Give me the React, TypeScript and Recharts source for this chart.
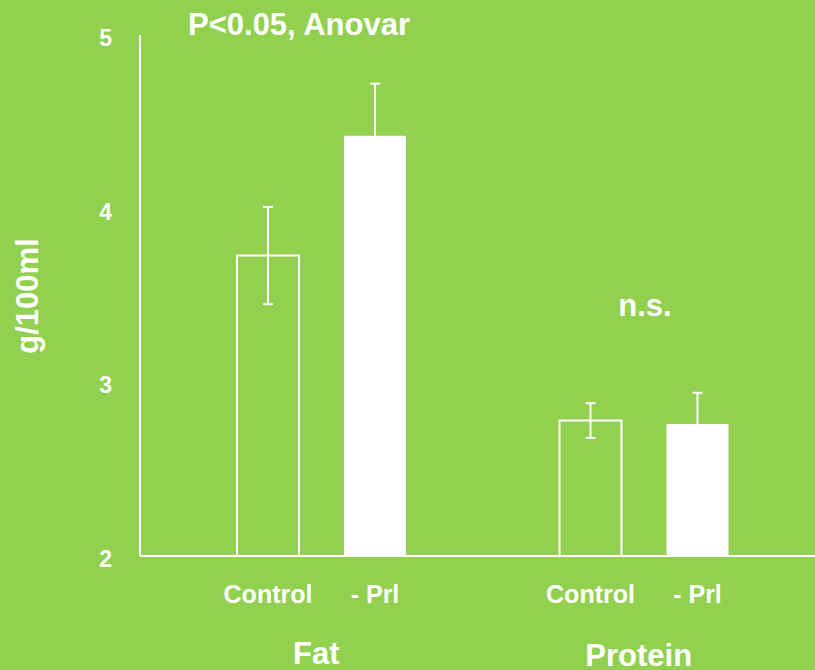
import React from "react";
import { BarChart, Bar, XAxis, YAxis, ErrorBar } from "recharts";

const categories = ["Fat", "Protein"];
const controlValues = [3.73, 2.78];
const controlErrors = [0.28, 0.1];
const prlValues = [4.42, 2.76];
const prlErrors = [0.3, 0.18];
const yTicks = [2, 3, 4, 5];

const data = categories.map((name, i) => ({
  name,
  control: controlValues[i],
  controlErr: controlErrors[i],
  prl: prlValues[i],
  prlErr: prlErrors[i],
}));

const GREEN = "#92D050";
const FONT = "'Liberation Sans', Arial, sans-serif";

const YTick = (props: any) => {
  const { x, y, payload } = props;
  return (
    <text x={x} y={y} dy={11} textAnchor="end" fill="#fff" fontSize={23} fontWeight="bold" fontFamily={FONT}>
      {payload.value}
    </text>
  );
};

const XTick = (props: any) => {
  const { x, y, payload } = props;
  return (
    <text x={x - 5} y={y} dy={payload.value === "Fat" ? 108 : 110} textAnchor="middle" fill="#fff" fontSize={31} fontWeight="bold" fontFamily={FONT}>
      {payload.value}
    </text>
  );
};

// series name under each bar
const subLabel = (text: string) => (props: any) => {
  const vb = props.viewBox || {};
  const x = props.x ?? vb.x;
  const y = props.y ?? vb.y;
  const w = props.width ?? vb.width;
  const h = props.height ?? vb.height;
  return (
    <text x={x + w / 2} y={y + h + 47} textAnchor="middle" fill="#fff" fontSize={25} fontWeight="bold" fontFamily={FONT}>
      {text}
    </text>
  );
};

const App = () => {
  return (
    <div style={{ position: "absolute", left: 0, top: 0, width: 815, height: 670, background: GREEN }}>
      <BarChart
        width={815}
        height={670}
        data={data}
        margin={{ top: 35, right: 0, left: 0, bottom: 0 }}
        barSize={62}
        barGap={45}
      >
        <XAxis
          dataKey="name"
          height={114}
          padding={{ left: 20, right: 10 }}
          axisLine={{ stroke: "#fff", strokeWidth: 2 }}
          tickLine={false}
          tickSize={0}
          tickMargin={0}
          tick={<XTick />}
          interval={0}
        />
        <YAxis
          width={140}
          domain={[2, 5]}
          ticks={yTicks}
          allowDataOverflow
          axisLine={{ stroke: "#fff", strokeWidth: 2 }}
          tickLine={false}
          tickSize={0}
          tickMargin={28}
          tick={<YTick />}
        />
        <Bar dataKey="control" fill="transparent" stroke="#fff" strokeWidth={2} isAnimationActive={false} label={subLabel("Control")}>
          <ErrorBar dataKey="controlErr" width={5} stroke="#fff" strokeWidth={2} direction="y" isAnimationActive={false} />
        </Bar>
        <Bar dataKey="prl" fill="#fff" isAnimationActive={false} label={subLabel("- Prl")}>
          <ErrorBar dataKey="prlErr" width={5} stroke="#fff" strokeWidth={2} direction="y" isAnimationActive={false} />
        </Bar>
      </BarChart>
      <svg width={815} height={670} style={{ position: "absolute", left: 0, top: 0, pointerEvents: "none" }}>
        <g fill="#fff" fontWeight="bold" fontFamily={FONT}>
          <text x={188} y={35} fontSize={31}>P&lt;0.05, Anovar</text>
          <text x={645} y={316} fontSize={31} textAnchor="middle">n.s.</text>
          <text x={38} y={296} fontSize={31} textAnchor="middle" transform="rotate(-90, 38, 296)">g/100ml</text>
        </g>
      </svg>
    </div>
  );
};

export default App;
